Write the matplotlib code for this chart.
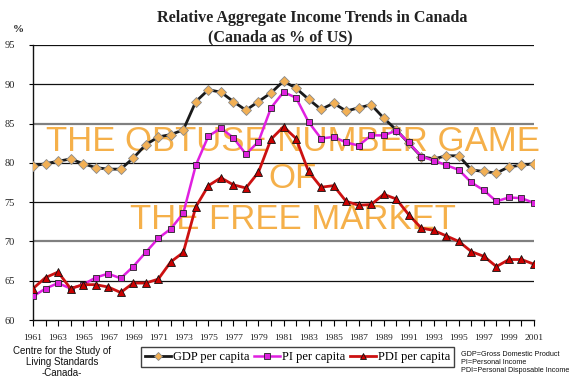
import matplotlib
matplotlib.use("Agg")
import matplotlib.pyplot as plt
import numpy as np

years = list(range(1961, 2002))
gdp = [79.6, 79.9, 80.2, 80.5, 79.9, 79.4, 79.2, 79.2, 80.6, 82.3,
       83.3, 83.6, 84.2, 87.8, 89.3, 89.0, 87.8, 86.7, 87.8, 88.9,
       90.4, 89.5, 88.1, 86.8, 87.6, 86.6, 87.0, 87.4, 85.7, 84.2,
       82.5, 80.8, 80.5, 80.9, 80.9, 79.1, 78.9, 78.7, 79.5, 79.7, 79.9]
pi = [63.0, 64.0, 64.7, 64.0, 64.5, 65.4, 65.9, 65.3, 66.8, 68.6,
      70.4, 71.6, 73.6, 79.7, 83.4, 84.4, 83.2, 81.1, 82.7, 87.0,
      89.0, 88.3, 85.2, 83.1, 83.3, 82.6, 82.2, 83.5, 83.5, 84.1,
      82.6, 80.8, 80.3, 79.7, 79.1, 77.5, 76.5, 75.1, 75.6, 75.5, 74.9]
pdi = [64.0, 65.4, 66.1, 64.0, 64.5, 64.5, 64.2, 63.5, 64.7, 64.7,
       65.2, 67.4, 68.6, 74.4, 77.1, 78.1, 77.2, 76.8, 78.8, 83.0,
       84.6, 83.1, 78.9, 76.9, 77.1, 75.1, 74.6, 74.7, 76.0, 75.4,
       73.4, 71.7, 71.4, 70.7, 70.0, 68.7, 68.1, 66.8, 67.7, 67.7, 67.1]
yticks = [60, 65, 70, 75, 80, 85, 90, 95]
xlabels = [str(y) if (y - 1961) % 2 == 0 else "" for y in years]

fig = plt.figure(figsize=(5.76, 3.84), dpi=100)
ax = fig.add_axes([33/576, 1 - 320/384, (534 - 33)/576, (320 - 45)/384])

# gridlines
for v in [65, 70, 75, 80, 85, 90, 95]:
    if v in (70, 85):
        ax.axhline(v, color="#808080", lw=1.6, zorder=1)
    else:
        ax.axhline(v, color="#111111", lw=0.9, zorder=1)

ax.plot(years, gdp, color="#1a1a1a", lw=2.0, marker="D", ms=5,
        mfc="#f2b055", mec="#8a8a8a", mew=0.6, zorder=4, label="GDP per capita")
ax.plot(years, pi, color="#e020e0", lw=1.8, marker="s", ms=5,
        mfc="#dd22dd", mec="#222222", mew=0.6, zorder=4, label="PI per capita")
ax.plot(years, pdi, color="#cc1111", lw=2.0, marker="^", ms=5.5,
        mfc="#cc0000", mec="#111111", mew=0.6, zorder=4, label="PDI per capita")

ax.set_xlim(1961, 2001)
ax.set_ylim(60, 95)
ax.set_yticks(yticks)
ax.set_yticklabels([str(v) for v in yticks], family="Liberation Serif", fontsize=7.5, color="#222222")
ax.set_xticks(years)
ax.set_xticklabels(xlabels, family="Liberation Serif", fontsize=6.8, color="#222222")
ax.tick_params(axis="y", length=3, width=0.8, pad=10, direction="out")
ax.tick_params(axis="x", length=4, width=0.8, pad=6, direction="out")
for s in ["top", "right"]:
    ax.spines[s].set_visible(False)
ax.spines["left"].set_linewidth(1.0)
ax.spines["bottom"].set_linewidth(1.0)
ax.spines["left"].set_color("#111111")
ax.spines["bottom"].set_color("#111111")

# watermark
wm = dict(transform=fig.transFigure, ha="center", va="center", color="#f5b04a",
          family="Liberation Sans", fontsize=25, zorder=2, clip_on=False)
ax.text(292.5/576, 1 - 141.5/384, "THE OBTUSE NUMBER GAME", **wm)
ax.text(292.5/576, 1 - 179/384, "OF", **wm)
ax.text(292.5/576, 1 - 219.5/384, "THE FREE MARKET", **wm)

# titles
fig.text(312/576, 1 - 18/384, "Relative Aggregate Income Trends in Canada",
         ha="center", va="center", family="Liberation Serif", fontweight="bold", fontsize=11.6, color="#222222")
fig.text(280/576, 1 - 37/384, "(Canada as % of US)",
         ha="center", va="center", family="Liberation Serif", fontweight="bold", fontsize=11.6, color="#222222")
fig.text(18/576, 1 - 29/384, "%", ha="center", va="center", family="Liberation Serif",
         fontweight="bold", fontsize=8, color="#222222")

# legend
leg = fig.legend(loc="center", bbox_to_anchor=(297.5/576, 1 - 357/384), ncol=3,
                 prop={"family": "Liberation Serif", "size": 9}, frameon=True,
                 fancybox=False, edgecolor="#111111", handlelength=2.1,
                 handletextpad=0.15, columnspacing=0.35, borderpad=0.3,
                 borderaxespad=0, markerscale=0.85)
leg.get_frame().set_linewidth(1.0)

fig.text(62/576, 1 - 362/384, "Centre for the Study of\nLiving Standards\n-Canada-",
         ha="center", va="center", family="Liberation Sans", fontsize=7, linespacing=1.15,
         color="#111111")
fig.text(461/576, 1 - 363/384,
         "GDP=Gross Domestic Product\nPI=Personal Income\nPDI=Personal Disposable Income",
         ha="left", va="center", family="Liberation Sans", fontsize=5.2, linespacing=1.2,
         color="#111111")

fig.savefig("out.png", dpi=100)
